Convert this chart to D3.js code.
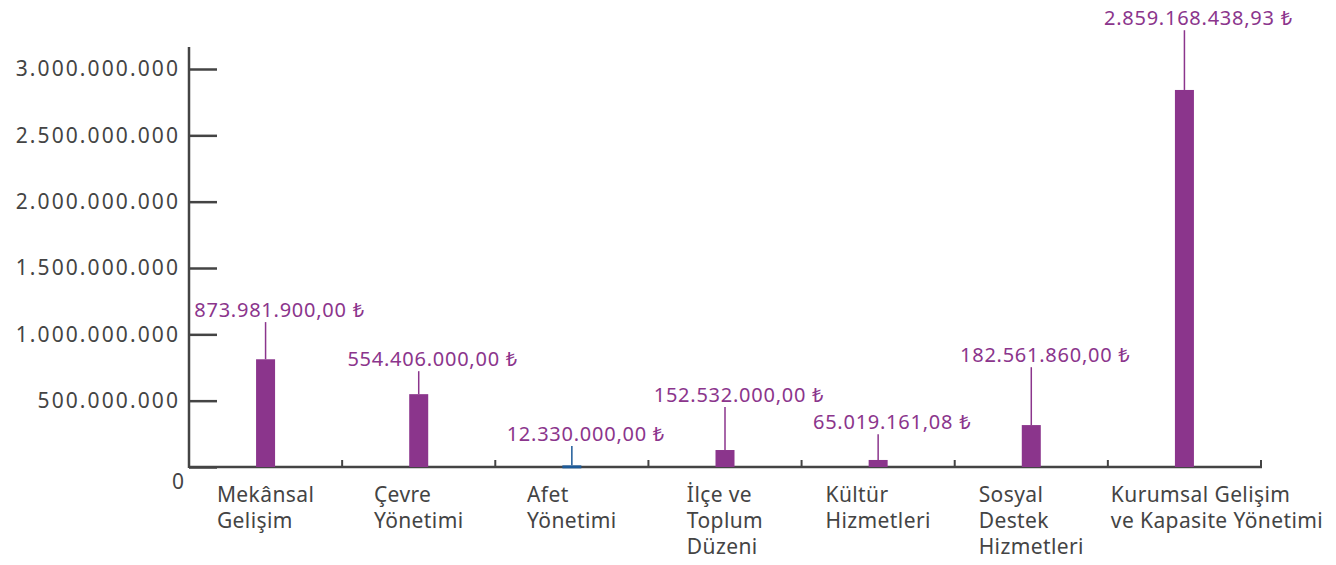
<!DOCTYPE html>
<html>
<head>
<meta charset="utf-8">
<script src="https://cdn.jsdelivr.net/npm/d3@7"></script>
<style>
  body { margin: 0; background: #fff; }
  svg text { font-family: "Noto Sans", sans-serif; }
</style>
</head>
<body>
<svg id="chart" width="1336" height="565"></svg>
<script>
const categories = ['Mekânsal Gelişim', 'Çevre Yönetimi', 'Afet Yönetimi', 'İlçe ve Toplum Düzeni',
  'Kültür Hizmetleri', 'Sosyal Destek Hizmetleri', 'Kurumsal Gelişim ve Kapasite Yönetimi'];
const categoryLines = [['Mekânsal', 'Gelişim'], ['Çevre', 'Yönetimi'], ['Afet', 'Yönetimi'],
  ['İlçe ve', 'Toplum', 'Düzeni'], ['Kültür', 'Hizmetleri'], ['Sosyal', 'Destek', 'Hizmetleri'],
  ['Kurumsal Gelişim', 've Kapasite Yönetimi']];
// bar heights as drawn in the picture
const barValues = [812e6, 549e6, 12.33e6, 128e6, 53e6, 316e6, 2842e6];
const valueLabels = ['873.981.900,00 ₺', '554.406.000,00 ₺', '12.330.000,00 ₺', '152.532.000,00 ₺',
  '65.019.161,08 ₺', '182.561.860,00 ₺', '2.859.168.438,93 ₺'];
// level (axis units) where each callout label sits
const calloutLevels = [1.13e9, 0.76e9, 0.196e9, 0.49e9, 0.284e9, 0.79e9, 3.33e9];
const yTicks = [0, 500e6, 1000e6, 1500e6, 2000e6, 2500e6, 3000e6];
const highlight = 'Afet Yönetimi';

const svg = d3.select('#chart');
const axisColor = '#444';
const purple = '#8b358c';
const blue = '#1d5a98';

const x = d3.scaleBand().domain(categories).range([189, 1261]);
const y = d3.scaleLinear().domain([0, 3e9]).range([467, 69]);
const fmt = d3.formatLocale({decimal: ',', thousands: '.', grouping: [3], currency: ['', '']}).format(',');

// Y axis
const yAxis = svg.append('g')
  .attr('transform', 'translate(189,0)')
  .call(d3.axisLeft(y).tickValues(yTicks).tickSize(-28).tickPadding(9).tickFormat(fmt));
yAxis.select('.domain').remove();
yAxis.selectAll('.tick line').attr('stroke', axisColor).attr('stroke-width', 2.5);
yAxis.selectAll('.tick text')
  .attr('fill', axisColor)
  .attr('font-size', '21px')
  .attr('letter-spacing', '2.1px');
yAxis.selectAll('.tick').filter(d => d === 0).select('text')
  .attr('x', -3).attr('dy', '1.0em');
svg.append('line')
  .attr('x1', 189).attr('x2', 189)
  .attr('y1', 47).attr('y2', y(0) + 1)
  .attr('stroke', axisColor).attr('stroke-width', 2.5);

// X axis
svg.append('line')
  .attr('x1', 189).attr('x2', 1262)
  .attr('y1', y(0)).attr('y2', y(0))
  .attr('stroke', axisColor).attr('stroke-width', 2.5);
svg.append('g').selectAll('line')
  .data(categories)
  .join('line')
  .attr('x1', d => x(d) + x.bandwidth())
  .attr('x2', d => x(d) + x.bandwidth())
  .attr('y1', y(0) - 7).attr('y2', y(0))
  .attr('stroke', axisColor).attr('stroke-width', 2);

// Bars
const barW = 19;
const cx = d => x(d) + x.bandwidth() / 2;
const colorOf = d => d === highlight ? blue : purple;
svg.append('g').selectAll('rect')
  .data(categories)
  .join('rect')
  .attr('x', d => cx(d) - barW / 2)
  .attr('width', barW)
  .attr('y', (d, i) => Math.min(y(barValues[i]), y(0) - 1.5))
  .attr('height', (d, i) => Math.max(3, y(0) - y(barValues[i])))
  .attr('fill', colorOf);

// Callout lines and value labels
svg.append('g').selectAll('line')
  .data(categories)
  .join('line')
  .attr('x1', cx).attr('x2', cx)
  .attr('y1', (d, i) => y(calloutLevels[i]) + 5)
  .attr('y2', (d, i) => y(barValues[i]))
  .attr('stroke', colorOf).attr('stroke-width', 1.5);
svg.append('g').selectAll('text')
  .data(categories)
  .join('text')
  .attr('x', d => cx(d) + 14)
  .attr('y', (d, i) => y(calloutLevels[i]))
  .attr('text-anchor', 'middle')
  .attr('fill', purple)
  .attr('font-size', '20px')
  .attr('letter-spacing', '0.75px')
  .text((d, i) => valueLabels[i]);

// Category labels: left-aligned lines, block centred under the band
const catG = svg.append('g').selectAll('text')
  .data(categories)
  .join('text')
  .attr('y', 502)
  .attr('fill', axisColor)
  .attr('font-size', '21px')
  .attr('letter-spacing', '0.4px');
catG.each(function(d, i) {
  const t = d3.select(this);
  categoryLines[i].forEach((line, j) => {
    t.append('tspan').attr('x', 0).attr('dy', j === 0 ? 0 : 26).text(line);
  });
  const w = this.getBBox().width;
  const left = Math.max(cx(d) - w / 2, x(d) + 3);
  t.attr('transform', `translate(${left},0)`);
});
</script>
</body>
</html>
